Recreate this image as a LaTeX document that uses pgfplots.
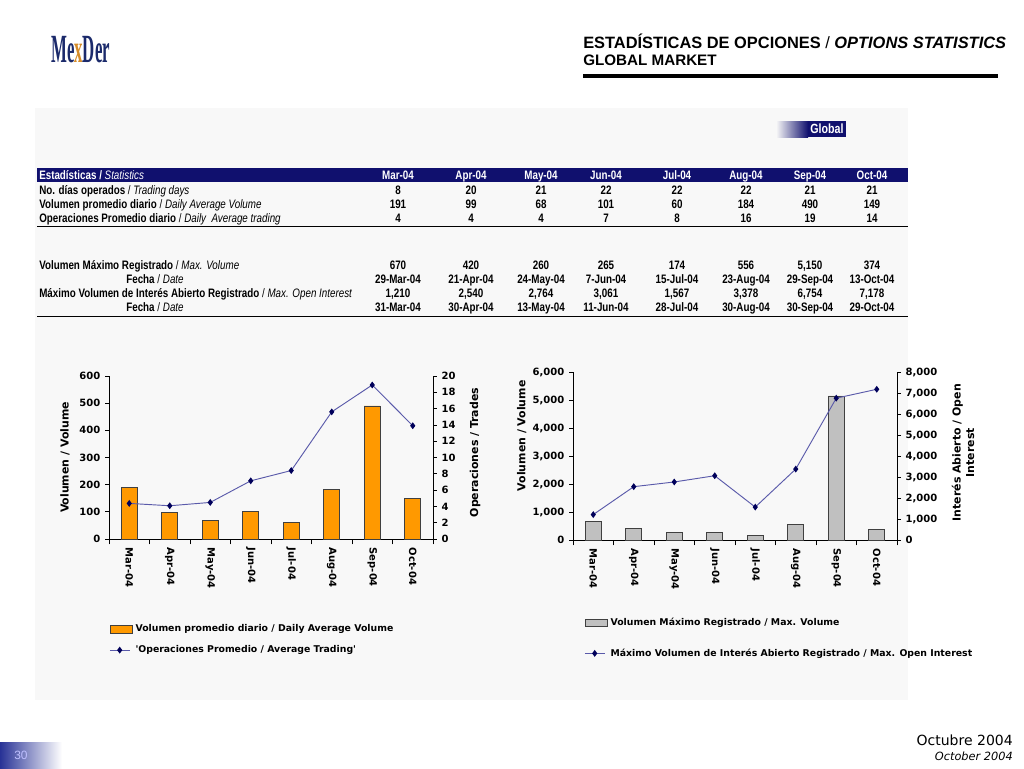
\documentclass[border=0pt]{standalone}
\usepackage{pgfplots}
\pgfplotsset{compat=1.18}
\usepackage{fontspec}
\setmainfont{DejaVu Sans}
\newfontfamily\narrow[FakeStretch=0.8]{Liberation Sans}
\newfontfamily\tah{Liberation Sans}
\newfontfamily\logof[FakeStretch=0.42]{Liberation Serif}
\definecolor{navyhdr}{RGB}{16,16,110}
\definecolor{barorange}{RGB}{255,153,0}
\definecolor{bargrey}{RGB}{192,192,192}
\definecolor{linecol}{RGB}{90,90,170}
\definecolor{markcol}{RGB}{0,0,90}
\definecolor{panel}{RGB}{248,248,248}
\definecolor{logoblue}{RGB}{27,42,107}
\definecolor{logoorange}{RGB}{214,140,40}
\newcommand\ticks{\bfseries\fontsize{7.5}{8.5}\selectfont}
\newcommand\labelf{\bfseries\fontsize{8.2}{10}\selectfont}
\newcommand\legf{\bfseries\fontsize{7}{8}\selectfont}
\newcommand\tf{\narrow\fontsize{9.2}{10}\selectfont}
\newcommand\trow[9]{%
 \node at (398,#1) {#2}; \node at (471,#1) {#3}; \node at (541,#1) {#4}; \node at (606,#1) {#5};%
 \node at (677,#1) {#6}; \node at (746,#1) {#7}; \node at (810,#1) {#8}; \node at (872,#1) {#9};}
\pgfplotsset{
  chartbase/.style={
    anchor=south west, scale only axis, width=243pt,
    xmin=-0.5, xmax=7.5, ymin=0,
    tick align=outside, major tick length=3pt, minor tick length=4pt,
    axis line style={black, line width=0.7pt},
    every tick/.style={black, line width=0.6pt},
    yticklabel style={font=\ticks},
    /pgf/number format/assume math mode=true,
    /pgf/number format/1000 sep={,},
  },
  barbase/.style={
    chartbase,
    axis x line*=bottom, axis y line*=left,
    xtick={0,...,7},
    xticklabels={Mar-04,Apr-04,May-04,Jun-04,Jul-04,Aug-04,Sep-04,Oct-04},
    major x tick style={draw=none},
    minor xtick={-0.5,0.5,...,7.5},
    xticklabel style={rotate=-90, anchor=west, font=\ticks},
    ylabel style={anchor=center, font=\labelf},
    ybar, bar width=12pt,
  },
  linebase/.style={
    chartbase,
    axis x line=none, axis y line*=right,
    ylabel style={anchor=center, font=\labelf, align=center},
    legend cell align=left,
    legend image code/.code={\draw[##1, mark repeat=2, mark phase=2] plot coordinates {(0cm,0cm) (0.26cm,0cm) (0.52cm,0cm)};},
  },
  barleg/.style={legend image code/.code={\draw[##1] (0cm,-0.09cm) rectangle (0.52cm,0.09cm);}},
}
\begin{document}
\begin{tikzpicture}
\begin{scope}[x=0.75pt,y=-0.75pt]
\fill[white] (0,0) rectangle (1024,768);
\useasboundingbox (0,0) rectangle (1024,768);
% panel
\fill[panel] (35,108) rectangle (908,700);
% logo
\node[anchor=west, inner sep=0pt, text=logoblue] at (51,50) {\logof\bfseries\fontsize{30}{32}\selectfont Me{\color{logoorange}x}Der};
% title
\node[anchor=base west, inner sep=0pt] at (583,48) {\tah\fontsize{12.3}{14}\selectfont\textbf{ESTADÍSTICAS DE OPCIONES} / \textbf{\itshape OPTIONS STATISTICS}};
\node[anchor=base west, inner sep=0pt] at (583,65) {\tah\bfseries\fontsize{11.4}{13}\selectfont GLOBAL MARKET};
\draw[line width=3pt] (583,76) -- (998,76);
% Global badge
\shade[left color=panel, right color=navyhdr] (776,121) rectangle (808,137);
\fill[navyhdr] (808,121) rectangle (846,137);
\node[text=white, inner sep=0pt, anchor=base] at (827,133) {\narrow\bfseries\fontsize{10}{11}\selectfont Global};
% table
\fill[navyhdr] (37,168) rectangle (908,182);
\begin{scope}[every node/.style={font=\tf, inner sep=0pt, anchor=base}]
\node[anchor=base west, text=white] at (39,179) {\textbf{Estadísticas /} \itshape Statistics};
\begin{scope}[every node/.append style={text=white, font=\tf\bfseries}]
\trow{179}{Mar-04}{Apr-04}{May-04}{Jun-04}{Jul-04}{Aug-04}{Sep-04}{Oct-04}
\end{scope}
\node[anchor=base west] at (39,194) {\textbf{No. días operados} / \itshape Trading days};
\node[anchor=base west] at (39,208) {\textbf{Volumen promedio diario} / \itshape Daily Average Volume};
\node[anchor=base west] at (39,222) {\textbf{Operaciones Promedio diario} / \itshape Daily\ \ Average trading};
\node[anchor=base west] at (39,269) {\textbf{Volumen Máximo Registrado} / \itshape Max. Volume};
\node at (155,283) {\textbf{Fecha} / \itshape Date};
\node[anchor=base west] at (39,297) {\textbf{Máximo Volumen de Interés Abierto Registrado} / \itshape Max. Open Interest};
\node at (155,311) {\textbf{Fecha} / \itshape Date};
\begin{scope}[every node/.append style={font=\tf\bfseries}]
\trow{194}{8}{20}{21}{22}{22}{22}{21}{21}
\trow{208}{191}{99}{68}{101}{60}{184}{490}{149}
\trow{222}{4}{4}{4}{7}{8}{16}{19}{14}
\trow{269}{670}{420}{260}{265}{174}{556}{5,150}{374}
\trow{283}{29-Mar-04}{21-Apr-04}{24-May-04}{7-Jun-04}{15-Jul-04}{23-Aug-04}{29-Sep-04}{13-Oct-04}
\trow{297}{1,210}{2,540}{2,764}{3,061}{1,567}{3,378}{6,754}{7,178}
\trow{311}{31-Mar-04}{30-Apr-04}{13-May-04}{11-Jun-04}{28-Jul-04}{30-Aug-04}{30-Sep-04}{29-Oct-04}
\end{scope}
\end{scope}
\draw[line width=1.3pt] (37,226.5) -- (908,226.5);
\draw[line width=1.3pt] (37,316.5) -- (908,316.5);
% footer
\shade[left color={rgb,255:red,40;green,50;blue,150}, right color=white] (0,742) rectangle (62,768);
\node[text=blue!25!white, inner sep=0pt] at (21,755) {\tah\fontsize{9}{10}\selectfont 30};
\node[anchor=east, inner sep=0pt] at (1013,740) {\fontsize{10.5}{12}\selectfont Octubre 2004};
\node[anchor=east, inner sep=0pt] at (1013,756) {\itshape\fontsize{8.5}{10}\selectfont October 2004};
\end{scope}
% ---- left chart
\begin{axis}[barbase, at={({109*0.75pt},{-539*0.75pt})}, height=122.25pt, ymax=600, ytick={0,100,...,600},
  ylabel={Volumen / Volume}, ylabel style={at={(axis description cs:-0.136,0.5)}}]
\addplot[fill=barorange, draw=black!75] coordinates {(0,191) (1,99) (2,68) (3,101) (4,60) (5,184) (6,490) (7,149)};
\end{axis}
\begin{axis}[linebase, at={({109*0.75pt},{-539*0.75pt})}, height=122.25pt, ymax=20, ytick={0,2,...,20},
  ylabel={Operaciones / Trades}, ylabel style={at={(axis description cs:1.13,0.53)}},
  legend style={at={(-0.012,-0.49)}, anchor=north west, draw=none, fill=none, font=\legf, row sep=5pt}]
\addlegendimage{barleg, area legend, fill=barorange, draw=black!75}
\addlegendentry{Volumen promedio diario / Daily Average Volume}
\addplot[linecol, line width=0.7pt, mark=diamond*, mark size=2pt, mark options={fill=markcol, draw=markcol}]
  coordinates {(0,4.37) (1,4.08) (2,4.49) (3,7.14) (4,8.4) (5,15.6) (6,18.9) (7,13.9)};
\addlegendentry{\textquotesingle Operaciones Promedio / Average Trading\textquotesingle}
\end{axis}
% ---- right chart
\begin{axis}[barbase, at={({573*0.75pt},{-540*0.75pt})}, height=126pt, ymax=6000, ytick={0,1000,...,6000},
  ylabel={Volumen / Volume}, ylabel style={at={(axis description cs:-0.158,0.62)}}]
\addplot[fill=bargrey, draw=black!75] coordinates {(0,670) (1,420) (2,260) (3,265) (4,174) (5,556) (6,5150) (7,374)};
\end{axis}
\begin{axis}[linebase, at={({573*0.75pt},{-540*0.75pt})}, height=126pt, ymax=8000, ytick={0,1000,...,8000},
  ylabel={Interés Abierto / Open\\Interest}, ylabel style={at={(axis description cs:1.204,0.52)}},
  legend style={at={(0.022,-0.43)}, anchor=north west, draw=none, fill=none, font=\legf, row sep=12pt}]
\addlegendimage{barleg, area legend, fill=bargrey, draw=black!75}
\addlegendentry{Volumen Máximo Registrado / Max. Volume}
\addplot[linecol, line width=0.7pt, mark=diamond*, mark size=2pt, mark options={fill=markcol, draw=markcol}]
  coordinates {(0,1210) (1,2540) (2,2764) (3,3061) (4,1567) (5,3378) (6,6754) (7,7178)};
\addlegendentry{Máximo Volumen de Interés Abierto Registrado / Max. Open Interest}
\end{axis}
\end{tikzpicture}
\end{document}
